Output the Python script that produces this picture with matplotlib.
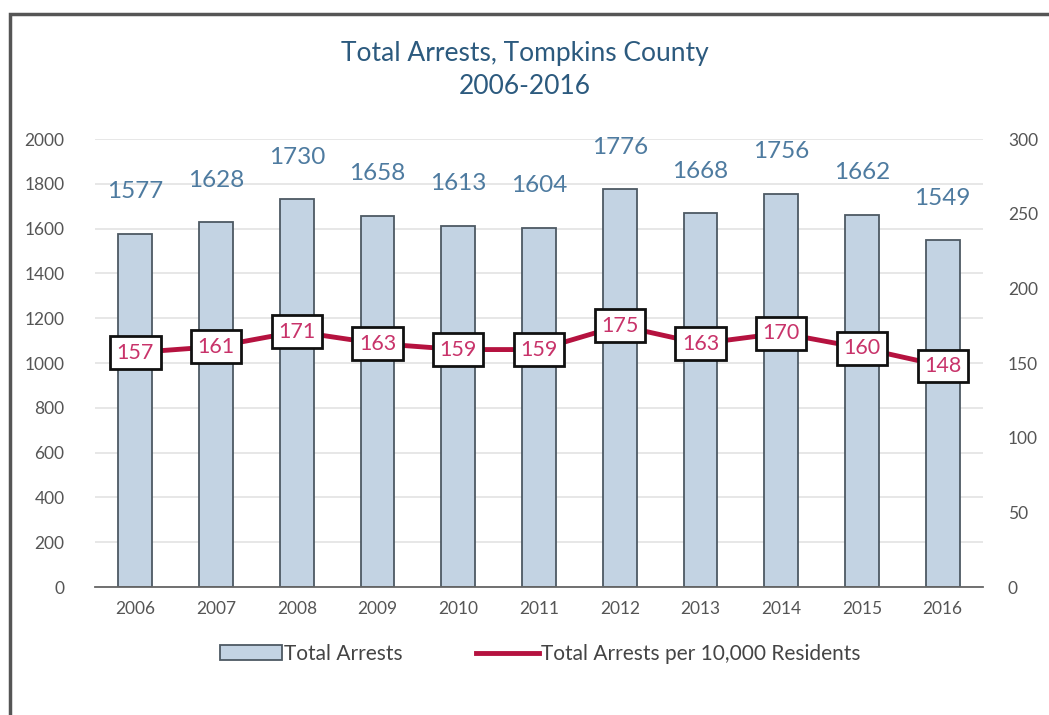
import matplotlib
matplotlib.use("Agg")
import matplotlib.pyplot as plt
from matplotlib.patches import Rectangle

years = ["2006", "2007", "2008", "2009", "2010", "2011", "2012", "2013", "2014", "2015", "2016"]
total_arrests = [1577, 1628, 1730, 1658, 1613, 1604, 1776, 1668, 1756, 1662, 1549]
per_10k = [157, 161, 171, 163, 159, 159, 175, 163, 170, 160, 148]

plt.rcParams['font.family'] = ['Lato', 'DejaVu Sans']

fig = plt.figure(figsize=(10.49, 7.15), dpi=100)
fig.patch.set_facecolor('white')
# outer frame
fig.patches.append(Rectangle((10/1049, -0.1), 1.2, 1 - 14/715 + 0.1, transform=fig.transFigure,
                             fill=False, edgecolor='#555555', linewidth=2.5))

ax = fig.add_axes([95/1049, 1 - 587/715, (983 - 95)/1049, (587 - 139)/715])
ax2 = ax.twinx()

x = list(range(len(years)))
bars = ax.bar(x, total_arrests, width=0.42, color='#c3d3e3', edgecolor='#4d5963', linewidth=1.3,
              zorder=2, label='Total Arrests')
ax.set_ylim(0, 2000)
ax.set_xlim(-0.5, len(years) - 0.5)
ax.set_yticks(range(0, 2001, 200))
ax.set_xticks(x)
ax.set_xticklabels(years)
ax.yaxis.grid(True, color='#e3e3e3', linewidth=1.2, zorder=0)
ax.set_axisbelow(True)
for s in ['top', 'right', 'left']:
    ax.spines[s].set_visible(False)
ax.spines['bottom'].set_color('#666666')
ax.spines['bottom'].set_linewidth(1.3)
ax.tick_params(axis='both', length=0, colors='#555555', labelsize=12.5)
ax.tick_params(axis='x', pad=10)
ax.tick_params(axis='y', pad=22)

for xi, v in zip(x, total_arrests):
    ax.text(xi, v + 140, str(v), ha='center', va='bottom', fontsize=17.5, color='#4e7ba0')

ax2.set_ylim(0, 300)
ax2.set_yticks(range(0, 301, 50))
for s in ['top', 'right', 'left', 'bottom']:
    ax2.spines[s].set_visible(False)
ax2.tick_params(axis='y', length=0, colors='#555555', labelsize=12.5, pad=18)
line, = ax2.plot(x, per_10k, color='#b5123f', linewidth=3.5, zorder=3,
                 label='Total Arrests per 10,000 Residents')
for xi, v in zip(x, per_10k):
    ax2.text(xi, v, str(v), ha='center', va='center', fontsize=15.5, color='#c8336a', zorder=4,
             bbox=dict(boxstyle='square,pad=0.3', facecolor='white', edgecolor='#111111', linewidth=2))

title = fig.text(0.5, 1 - 70/715, 'Total Arrests, Tompkins County\n2006-2016', ha='center', va='center',
                 fontsize=19, color='#2c5a7e', linespacing=1.35)

fig.legend([bars, line], ['Total Arrests', 'Total Arrests per 10,000 Residents'],
           loc='center', bbox_to_anchor=(540/1049, 1 - 654/715), ncol=2, frameon=False,
           fontsize=15, labelcolor='#444444', handlelength=3.0, handletextpad=0.1, columnspacing=3.5)

fig.savefig('out.png', dpi=100)
